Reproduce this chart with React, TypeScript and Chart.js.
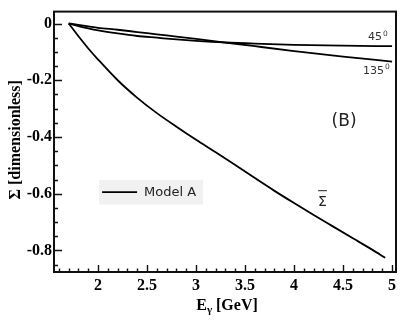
import { useEffect, useRef } from "react";
import { Chart, registerables } from "chart.js";

Chart.register(...registerables);

// ---- data ----
const energyAngle = [1.7, 1.8, 1.9, 2.0, 2.2, 2.4, 2.6, 2.8, 3.0, 3.3, 3.6, 4.0, 4.5, 5.0];
const sigma45 = [0, -0.009, -0.017, -0.024, -0.035, -0.044, -0.05, -0.056, -0.061, -0.067, -0.071, -0.075, -0.078, -0.08];
const sigma135 = [0, -0.005, -0.01, -0.015, -0.022, -0.03, -0.038, -0.046, -0.054, -0.067, -0.08, -0.097, -0.117, -0.134];

const energyBar = [1.7, 1.8, 1.9, 2.0, 2.2, 2.4, 2.6, 2.8, 3.0, 3.2, 3.4, 3.6, 3.8, 4.0, 4.2, 4.4, 4.6, 4.8, 4.93];
const sigmaBar = [0, -0.045, -0.088, -0.127, -0.2, -0.262, -0.316, -0.364, -0.41, -0.454, -0.499, -0.545, -0.59, -0.633, -0.675, -0.716, -0.757, -0.798, -0.826];

const xTicks = [2, 2.5, 3, 3.5, 4, 4.5, 5];
const yTicks = [-0.8, -0.6, -0.4, -0.2, 0];
const xMin = 1.55;
const xMax = 5.04;
const yMin = -0.876;
const yMax = 0.042;

const legendLabel = "Model A";
const yTitle = "Σ [dimensionless]";

const serifBold = (s: number) => `bold ${s}px "Liberation Serif", "Times New Roman", serif`;
const sans = (s: number) => `${s}px "DejaVu Sans", "Liberation Sans", sans-serif`;

const decor = {
  id: "decor",
  beforeDatasetsDraw(chart: any) {
    const { ctx, scales } = chart;
    const x = scales.x;
    const y = scales.y;
    // legend box
    const l = x.getPixelForValue(2.01);
    const r = x.getPixelForValue(3.07);
    const t = y.getPixelForValue(-0.551);
    const b = y.getPixelForValue(-0.638);
    ctx.save();
    ctx.fillStyle = "#f1f1f1";
    ctx.fillRect(l, t, r - l, b - t);
    const my = (t + b) / 2;
    ctx.strokeStyle = "#000";
    ctx.lineWidth = 1.8;
    ctx.beginPath();
    ctx.moveTo(l + 3, my);
    ctx.lineTo(l + 38, my);
    ctx.stroke();
    ctx.fillStyle = "#222";
    ctx.font = sans(13);
    ctx.textAlign = "left";
    ctx.textBaseline = "middle";
    ctx.fillText(legendLabel, l + 45, my + 0.5);
    ctx.restore();
  },
  afterDatasetsDraw(chart: any) {
    const { ctx, chartArea: a, scales } = chart;
    const x = scales.x;
    const y = scales.y;
    ctx.save();
    // ticks (inward)
    ctx.strokeStyle = "#111";
    ctx.lineWidth = 1.4;
    ctx.beginPath();
    for (let i = 16; i <= 50; i++) {
      const px = Math.round(x.getPixelForValue(i / 10)) + 0.5;
      const major = i % 5 === 0;
      ctx.moveTo(px, a.bottom);
      ctx.lineTo(px, a.bottom - (major ? 7 : 3.5));
    }
    for (let i = -17; i <= 0; i++) {
      const py = Math.round(y.getPixelForValue(i * 0.05)) + 0.5;
      const major = i % 4 === 0;
      ctx.moveTo(a.left, py);
      ctx.lineTo(a.left + (major ? 8 : 4), py);
    }
    ctx.stroke();
    // frame
    ctx.strokeStyle = "#111";
    ctx.lineWidth = 2;
    ctx.strokeRect(a.left, a.top, a.right - a.left, a.bottom - a.top);

    // annotations
    ctx.fillStyle = "#333";
    ctx.textAlign = "left";
    ctx.textBaseline = "alphabetic";
    const deg = (txt: string, vx: number, vy: number) => {
      const px = x.getPixelForValue(vx);
      const py = y.getPixelForValue(vy);
      ctx.font = sans(11);
      ctx.fillText(txt, px, py);
      const w = ctx.measureText(txt).width;
      ctx.font = sans(7.5);
      ctx.fillText("0", px + w + 1, py - 4.5);
    };
    deg("45", 4.755, -0.059);
    deg("135", 4.704, -0.177);

    ctx.fillStyle = "#222";
    ctx.font = sans(17);
    ctx.textAlign = "center";
    ctx.textBaseline = "middle";
    ctx.fillText("(B)", x.getPixelForValue(4.51), y.getPixelForValue(-0.346));

    // Sigma bar
    ctx.textAlign = "left";
    ctx.textBaseline = "alphabetic";
    ctx.font = sans(14);
    const sx = x.getPixelForValue(4.245);
    const sy = y.getPixelForValue(-0.644);
    ctx.fillText("Σ", sx, sy);
    const sw = ctx.measureText("Σ").width;
    ctx.strokeStyle = "#222";
    ctx.lineWidth = 1;
    ctx.beginPath();
    ctx.moveTo(sx, sy - 15.5);
    ctx.lineTo(sx + sw, sy - 15.5);
    ctx.stroke();

    // y title
    ctx.fillStyle = "#000";
    ctx.save();
    ctx.translate(15.5, (a.top + a.bottom) / 2 - 2);
    ctx.rotate(-Math.PI / 2);
    ctx.font = serifBold(16);
    ctx.textAlign = "center";
    ctx.textBaseline = "middle";
    ctx.fillText(yTitle, 0, 0);
    ctx.restore();

    // x title: E_γ [GeV]
    ctx.textAlign = "left";
    ctx.textBaseline = "alphabetic";
    ctx.font = serifBold(16);
    const wE = ctx.measureText("E").width;
    const wRest = ctx.measureText(" [GeV]").width;
    ctx.font = serifBold(11);
    const wG = ctx.measureText("γ").width;
    const total = wE + wG + wRest;
    const cx = (a.left + a.right) / 2 + 2;
    const base = 309.5;
    let px = cx - total / 2;
    ctx.font = serifBold(16);
    ctx.fillText("E", px, base);
    px += wE;
    ctx.font = serifBold(11);
    ctx.fillText("γ", px, base + 3);
    px += wG;
    ctx.font = serifBold(16);
    ctx.fillText(" [GeV]", px, base);
    ctx.restore();
  },
};

export default function App() {
  const ref = useRef<HTMLCanvasElement | null>(null);
  useEffect(() => {
    if (!ref.current) return;
    const toXY = (xs: number[], ys: number[]) => xs.map((v, i) => ({ x: v, y: ys[i] }));
    const line = {
      borderColor: "#000",
      borderWidth: 1.8,
      pointRadius: 0,
      fill: false,
      cubicInterpolationMode: "monotone" as const,
    };
    const chart = new Chart(ref.current, {
      type: "line",
      data: {
        datasets: [
          { label: legendLabel, data: toXY(energyBar, sigmaBar), ...line },
          { label: "45°", data: toXY(energyAngle, sigma45), ...line },
          { label: "135°", data: toXY(energyAngle, sigma135), ...line },
        ],
      },
      options: {
        animation: false,
        responsive: false,
        devicePixelRatio: 1,
        layout: { padding: { left: 0, right: 13, top: 7, bottom: 0 } },
        plugins: { legend: { display: false }, tooltip: { enabled: false } },
        scales: {
          x: {
            type: "linear",
            min: xMin,
            max: xMax,
            grid: { display: false, drawTicks: false },
            border: { display: false },
            afterBuildTicks: (s: any) => {
              s.ticks = xTicks.map((v) => ({ value: v }));
            },
            afterFit: (s: any) => {
              s.height = 55;
            },
            ticks: {
              color: "#000",
              padding: 4,
              maxRotation: 0,
              autoSkip: false,
              font: { family: '"Liberation Serif", "Times New Roman", serif', size: 16, weight: "bold" },
              callback: (v: any) => String(v),
            },
          },
          y: {
            type: "linear",
            min: yMin,
            max: yMax,
            grid: { display: false, drawTicks: false },
            border: { display: false },
            afterBuildTicks: (s: any) => {
              s.ticks = yTicks.map((v) => ({ value: v }));
            },
            afterFit: (s: any) => {
              s.width = 54;
            },
            ticks: {
              color: "#000",
              padding: 2,
              autoSkip: false,
              font: { family: '"Liberation Serif", "Times New Roman", serif', size: 16, weight: "bold" },
              callback: (v: any) => String(v),
            },
          },
        },
      },
      plugins: [decor],
    });
    return () => chart.destroy();
  }, []);
  return (
    <div style={{ position: "fixed", left: 0, top: 0, width: 409, height: 327, background: "#fff" }}>
      <canvas ref={ref} width={409} height={327} style={{ display: "block", width: 409, height: 327 }} />
    </div>
  );
}
